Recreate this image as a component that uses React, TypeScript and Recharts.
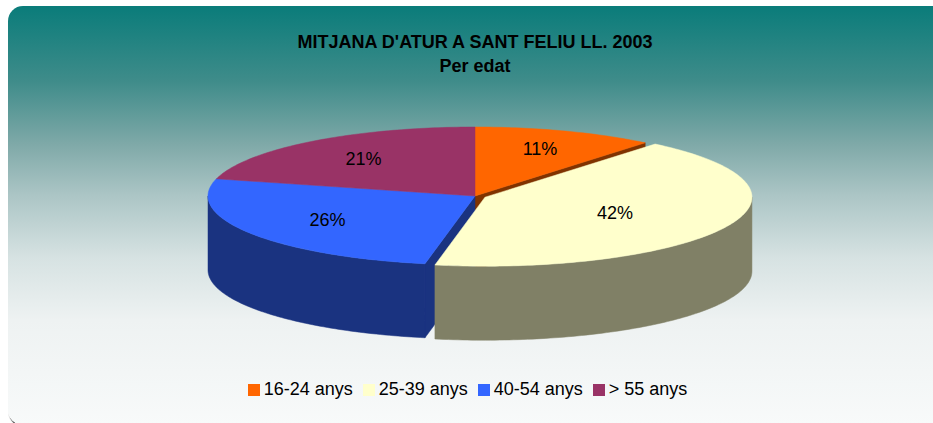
import React from 'react';
import { PieChart, Pie, Cell, Legend } from 'recharts';

const categories = ['16-24 anys', '25-39 anys', '40-54 anys', '> 55 anys'];
const shares = [11, 42, 26, 21];
const COLORS = ['#ff6600', '#ffffcc', '#3366ff', '#993366'];

const data = categories.map((name, i) => ({ name, value: shares[i] }));

const W = 933;
const H = 423;
const CX = 475;
const CY = 196;
const RX = 267;
const RY = 69;
const K = RY / RX;
const DEPTH = 74;
const EXPLODED = 1; // the 25-39 slice is pulled out
const EXPLODE = 11;
const LABEL_SCALE = 1.1;
const FONT = '"Liberation Sans", Arial, Helvetica, sans-serif';

const rad = (d: number) => (d * Math.PI) / 180;

// excel style side colour: half of the face colour
const darken = (hex: string, f: number) => {
  const n = parseInt(hex.slice(1), 16);
  const c = [(n >> 16) & 255, (n >> 8) & 255, n & 255].map((v) => Math.round(v * f));
  return `rgb(${c[0]},${c[1]},${c[2]})`;
};

type Pt = [number, number];

const geom = (p: any) => {
  const idx = typeof p.index === 'number' ? p.index : categories.indexOf(p.name);
  const lo = Math.min(p.startAngle, p.endAngle);
  const hi = Math.max(p.startAngle, p.endAngle);
  const mid = (lo + hi) / 2;
  const off = idx === EXPLODED ? EXPLODE : 0;
  const ox = p.cx + off * Math.cos(rad(mid));
  const oy = p.cy - off * K * Math.sin(rad(mid));
  const r = p.outerRadius;
  const pt = (a: number, dz = 0): Pt => [ox + r * Math.cos(rad(a)), oy - r * K * Math.sin(rad(a)) + dz];
  const clockwise = p.startAngle > p.endAngle;
  return { idx, lo, hi, mid, ox, oy, r, pt, clockwise };
};

const arcPts = (pt: (a: number, dz?: number) => Pt, from: number, to: number, dz: number) => {
  const n = Math.max(2, Math.ceil(Math.abs(to - from)));
  const out: Pt[] = [];
  for (let i = 0; i <= n; i++) out.push(pt(from + ((to - from) * i) / n, dz));
  return out;
};

const toPath = (pts: Pt[]) => 'M' + pts.map((q) => q[0].toFixed(2) + ',' + q[1].toFixed(2)).join('L') + 'Z';

// cut faces: only where a slice borders the pulled out one, and only when turned to the viewer
const renderFaces = (p: any) => {
  const g = geom(p);
  const n = categories.length;
  const side = darken(COLORS[g.idx], 0.5);
  const prev = (g.idx - 1 + n) % n;
  const next = (g.idx + 1) % n;
  const hiNeighbour = g.clockwise ? prev : next;
  const loNeighbour = g.clockwise ? next : prev;
  const faces: string[] = [];
  const check = (a: number, normal: number, neighbour: number) => {
    if (g.idx !== EXPLODED && neighbour !== EXPLODED) return;
    if (Math.sin(rad(normal)) < -1e-6) {
      faces.push(toPath([[g.ox, g.oy], g.pt(a), g.pt(a, DEPTH), [g.ox, g.oy + DEPTH]]));
    }
  };
  check(g.lo, g.lo - 90, loNeighbour);
  check(g.hi, g.hi + 90, hiNeighbour);
  return (
    <g key={`face-${g.idx}`}>
      {faces.map((d, i) => (
        <path key={i} d={d} fill={side} stroke={side} strokeWidth={0.5} />
      ))}
    </g>
  );
};

// front rim of the cylinder
const renderWalls = (p: any) => {
  const g = geom(p);
  const side = darken(COLORS[g.idx], 0.5);
  const parts: string[] = [];
  for (let n = -2; n <= 1; n++) {
    const s = Math.max(g.lo, 180 + 360 * n);
    const e = Math.min(g.hi, 360 + 360 * n);
    if (e > s) {
      const top = arcPts(g.pt, s, e, 0);
      const bot = arcPts(g.pt, e, s, DEPTH);
      parts.push(toPath([...top, ...bot]));
    }
  }
  return (
    <g key={`wall-${g.idx}`}>
      {parts.map((d, i) => (
        <path key={i} d={d} fill={side} stroke={side} strokeWidth={0.5} />
      ))}
    </g>
  );
};

// top faces + percentage
const renderTops = (p: any) => {
  const g = geom(p);
  const pts: Pt[] = [[g.ox, g.oy], ...arcPts(g.pt, g.lo, g.hi, 0)];
  const half = rad((g.hi - g.lo) / 2);
  const f = half > 0 ? ((2 / 3) * Math.sin(half)) / half * LABEL_SCALE : 0;
  const lx = g.ox + g.r * f * Math.cos(rad(g.mid));
  const ly = g.oy - g.r * K * f * Math.sin(rad(g.mid));
  return (
    <g key={`top-${g.idx}`}>
      <path d={toPath(pts)} fill={COLORS[g.idx]} stroke={COLORS[g.idx]} strokeWidth={0.5} />
      <text x={lx} y={ly} textAnchor="middle" dominantBaseline="central" fontFamily={FONT} fontSize={18} fill="#000">
        {Math.round(p.percent * 100)}%
      </text>
    </g>
  );
};

const pieCommon = {
  data,
  dataKey: 'value',
  nameKey: 'name',
  cx: CX,
  cy: CY,
  outerRadius: RX,
  startAngle: 90,
  endAngle: -270,
  stroke: 'none',
  labelLine: false,
  isAnimationActive: false,
};

const cells = () => COLORS.map((c, i) => <Cell key={`c-${i}`} fill={c} fillOpacity={0} />);

export default function App() {
  return (
    <div style={{ position: 'absolute', left: 0, top: 0, width: W, height: H, background: '#fff', overflow: 'hidden' }}>
      <div
        style={{
          position: 'absolute',
          left: 8,
          top: 6,
          width: 940,
          height: 419,
          borderRadius: 15,
          boxShadow: '1px 2px 1px #000',
          background:
            'linear-gradient(to bottom, #0a7c7a 0%, #3f8c8a 18%, #7fa9a8 33%, #abc5c5 45%, #d6e2e2 60%, #eef2f2 75%, #f8fafa 100%)',
        }}
      />
      <div
        style={{
          position: 'absolute', left: 0, top: 32, width: 950, textAlign: 'center',
          fontFamily: FONT, fontWeight: 'bold', fontSize: 18, lineHeight: '20px', color: '#000',
        }}
      >
        MITJANA D'ATUR A SANT FELIU LL. 2003
      </div>
      <div
        style={{
          position: 'absolute', left: 0, top: 56, width: 950, textAlign: 'center',
          fontFamily: FONT, fontWeight: 'bold', fontSize: 18, lineHeight: '20px', color: '#000',
        }}
      >
        Per edat
      </div>
      <div style={{ position: 'absolute', left: 0, top: 0 }}>
        <PieChart width={W} height={H} margin={{ top: 0, right: 0, bottom: 0, left: 0 }}>
          <Pie {...pieCommon} legendType="none" label={renderFaces}>
            {cells()}
          </Pie>
          <Pie {...pieCommon} legendType="none" label={renderWalls}>
            {cells()}
          </Pie>
          <Pie {...pieCommon} legendType="square" label={renderTops}>
            {cells()}
          </Pie>
          <Legend
            verticalAlign="bottom"
            iconType="square"
            iconSize={12}
            wrapperStyle={{ top: 379, left: 6, width: W, fontFamily: FONT, fontSize: 18 }}
            formatter={(v: string) => <span style={{ color: '#000' }}>{v}</span>}
          />
        </PieChart>
      </div>
    </div>
  );
}
